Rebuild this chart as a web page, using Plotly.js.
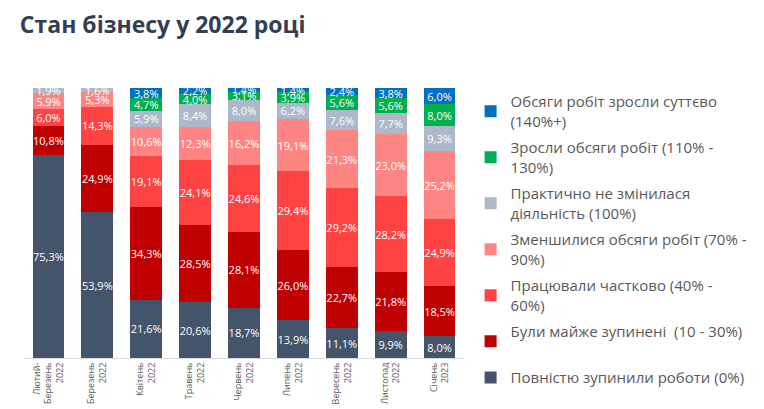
<!DOCTYPE html>
<html>
<head>
<meta charset="utf-8">
<script src="https://cdn.plot.ly/plotly-3.0.1.min.js"></script>
<style>
  body { margin: 0; background: #fff; }
  #chart { width: 764px; height: 409px; }
</style>
</head>
<body>
<div id="chart"></div>
<script>
// періоди опитування
var periods = [
    'Лютий-<br>Березень<br>2022', 'Березень<br>2022', 'Квітень<br>2022',
    'Травень<br>2022', 'Червень<br>2022', 'Липень<br>2022',
    'Вересень<br>2022', 'Листопад<br>2022', 'Січень<br>2023'
];

// частки, % (знизу вгору)
var stopped   = [75.3, 53.9, 21.6, 20.6, 18.7, 13.9, 11.1, 9.9, 8.0];
var almost    = [10.8, 24.9, 34.3, 28.5, 28.1, 26.0, 22.7, 21.8, 18.5];
var partial   = [6.0, 14.3, 19.1, 24.1, 24.6, 29.4, 29.2, 28.2, 24.9];
var decreased = [5.9, 5.3, 10.6, 12.3, 16.2, 19.1, 21.3, 23.0, 25.2];
var unchanged = [1.9, 1.6, 5.9, 8.4, 8.0, 6.2, 7.6, 7.7, 9.3];
var grew      = [null, null, 4.7, 4.0, 3.1, 3.9, 5.6, 5.6, 8.0];
var strong    = [null, null, 3.8, 2.2, 1.4, 1.4, 2.4, 3.8, 6.0];

var series = [
    {name: 'Повністю зупинили роботи (0%)', y: stopped, color: '#44546A'},
    {name: 'Були майже зупинені  (10 - 30%)<br>\u00a0', y: almost, color: '#C00000'},
    {name: 'Працювали частково (40% -<br>60%)', y: partial, color: '#FF4343'},
    {name: 'Зменшилися обсяги робіт (70% -<br>90%)', y: decreased, color: '#FF8585'},
    {name: 'Практично не змінилася<br>діяльність (100%)', y: unchanged, color: '#ADB9CA'},
    {name: 'Зросли обсяги робіт (110% -<br>130%)', y: grew, color: '#00B050'},
    {name: 'Обсяги робіт зросли суттєво<br>(140%+)', y: strong, color: '#0070C0'}
];

var traces = series.map(function(s, i) {
    return {
        type: 'bar',
        name: s.name,
        legendgroup: 'g' + i,
        legendrank: series.length - i,
        x: periods,
        y: s.y,
        marker: {color: s.color},
        texttemplate: '%{y:.1f}%',
        textposition: 'inside',
        insidetextanchor: 'middle',
        textangle: 0,
        textfont: {color: '#ffffff', size: 11, family: 'Open Sans, sans-serif'},
        hoverinfo: 'name+y'
    };
});

var layout = {
    width: 764,
    height: 409,
    barmode: 'stack',
    bargap: 0.35,
    separators: ', ',
    uniformtext: {mode: 'show', minsize: 11},
    paper_bgcolor: '#ffffff',
    plot_bgcolor: '#ffffff',
    margin: {l: 24, r: 300, t: 88, b: 51, autoexpand: false},
    title: {
        text: '<b>Стан бізнесу у 2022 році</b>',
        x: 0.026, xanchor: 'left',
        y: 0.94, yanchor: 'middle',
        font: {size: 23, color: '#333F50', family: 'Open Sans, sans-serif'}
    },
    xaxis: {
        tickangle: -90,
        tickfont: {size: 9, color: '#595959', family: 'Open Sans, sans-serif'},
        showline: true,
        linecolor: '#D9D9D9',
        ticks: '',
        fixedrange: true
    },
    yaxis: {
        range: [0, 100],
        visible: false,
        fixedrange: true
    },
    showlegend: true,
    legend: {
        traceorder: 'grouped',
        x: 1.015, xanchor: 'left',
        y: 1.01, yanchor: 'top',
        font: {size: 15, color: '#595959', family: 'Open Sans, sans-serif'},
        itemwidth: 30,
        tracegroupgap: 4,
        maxheight: 400
    }
};

Plotly.newPlot('chart', traces, layout, {displayModeBar: false, staticPlot: true});
</script>
</body>
</html>
